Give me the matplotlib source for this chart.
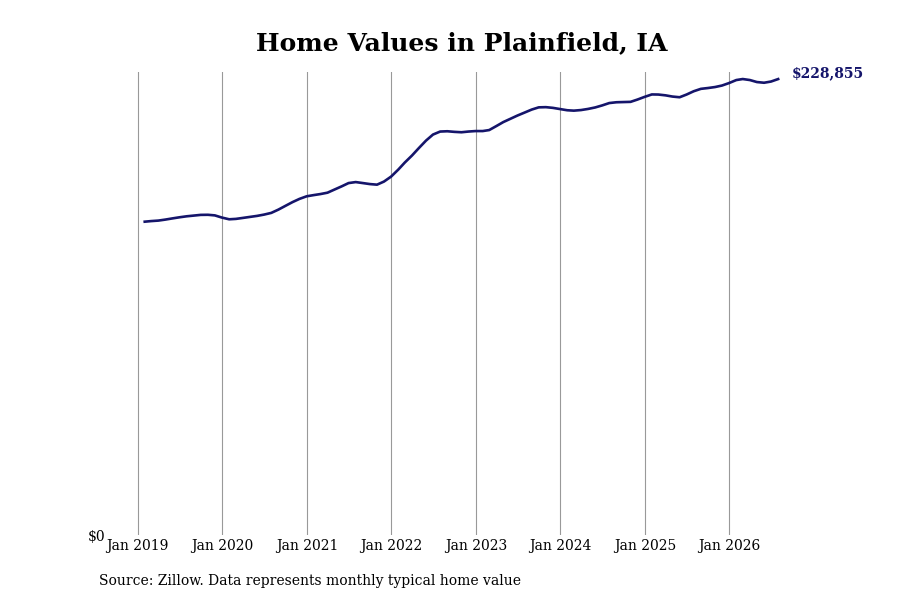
import matplotlib
matplotlib.use("Agg")
import matplotlib.pyplot as plt
import pandas as pd

# monthly typical home value, Jan 2019 - Jul 2026 (month end)
dates = pd.date_range("2019-01-31", "2026-07-31", freq="ME")
values = [
    157300, 157600, 157850, 158350, 158950, 159500, 160000, 160360, 160710, 160760, 160460, 159350,
    158500, 158700, 159200, 159700, 160210, 160860, 161710, 163370, 165230, 167130, 168740, 170040,
    170650, 171150, 171850, 173410, 175010, 176670, 177170, 176670, 176170, 175870, 177420, 179930,
    183440, 186960, 190470, 194240, 198000, 201010, 202520, 202670, 202370, 202170, 202520, 202770,
    202770, 203270, 205280, 207280, 208940, 210550, 212050, 213560, 214660, 214760, 214410, 213810,
    213210, 213010, 213310, 213860, 214610, 215620, 216820, 217220, 217320, 217420, 218580, 219930,
    221140, 221090, 220690, 220080, 219730, 221090, 222740, 223950, 224350, 224850, 225600, 226860,
    228360, 228870, 228360, 227360, 227010, 227610, 228855,
]
tick_years = list(range(2019, 2027))
tick_labels = [f"Jan {y}" for y in tick_years]

fig = plt.figure(figsize=(9, 6), dpi=100)
ax = fig.add_axes([0.122, 0.108, 0.784, 0.772])
plt.rcParams['font.family'] = 'DejaVu Serif'

ax.plot(dates, values, color='#15156b', linewidth=1.9)

ax.set_xlim(pd.Timestamp("2018-09-02"), pd.Timestamp("2027-01-08"))
ax.set_ylim(0, 232400)
ax.set_xticks([pd.Timestamp(f"{y}-01-01") for y in tick_years])
ax.set_xticklabels(tick_labels, family='DejaVu Serif', fontsize=10)
ax.set_yticks([0])
ax.set_yticklabels(["$0"], family='DejaVu Serif', fontsize=10)
ax.tick_params(length=0, pad=3)
ax.xaxis.grid(True, color='#999999', linewidth=0.8)
for s in ax.spines.values():
    s.set_visible(False)

ax.annotate(f"${values[-1]:,}", (dates[-1], values[-1]), xytext=(10, 4.5),
            textcoords='offset points', va='center', ha='left',
            fontsize=10, fontweight='bold', color='#15156b', family='DejaVu Serif')

fig.text(0.513, 0.928, "Home Values in Plainfield, IA", ha='center', va='center',
         fontsize=18, fontweight='bold', family='DejaVu Serif')
fig.text(0.11, 0.031, "Source: Zillow. Data represents monthly typical home value",
         ha='left', va='center', fontsize=10, family='DejaVu Serif')

fig.savefig("out.png", dpi=100)
